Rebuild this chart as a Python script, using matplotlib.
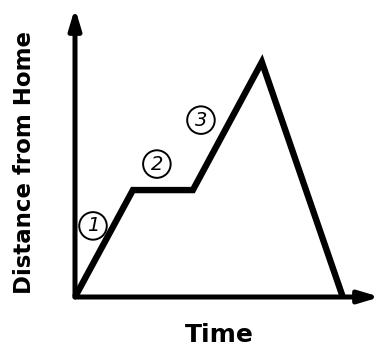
import matplotlib.pyplot as plt

# distance-time sketch (arbitrary units)
time = [0.0, 1.93, 3.93, 6.23, 8.93]
distance = [0.0, 3.7, 3.7, 8.13, 0.0]
stage_labels = ["1", "2", "3"]
stage_x = [0.6, 2.73, 4.2]
stage_y = [2.46, 4.6, 6.12]

fig = plt.figure(figsize=(3.82, 3.52), dpi=100)
ax = fig.add_axes([75 / 382, 55 / 352, 305 / 382, 289 / 352])
ax.set_xlim(0, 10.17)
ax.set_ylim(0, 10)
ax.axis("off")

ax.plot(time, distance, color="black", lw=4.6, solid_joinstyle="miter",
        solid_capstyle="butt", clip_on=False)

arrow = dict(arrowstyle="-|>,head_length=1.0,head_width=0.3", lw=3.6,
             color="black", shrinkA=0, shrinkB=0, mutation_scale=12)
ax.annotate("", xy=(0, 1), xytext=(0, 0), xycoords="axes fraction",
            arrowprops=arrow, annotation_clip=False)
ax.annotate("", xy=(1, 0), xytext=(0, 0), xycoords="axes fraction",
            arrowprops=arrow, annotation_clip=False)

for label, x, y in zip(stage_labels, stage_x, stage_y):
    ax.text(x, y, label, ha="center", va="center", fontsize=14,
            fontstyle="italic",
            bbox=dict(boxstyle="circle,pad=0.22", fc="none", ec="black", lw=1.4))

fig.text(219 / 382, 1 - 335 / 352, "Time", ha="center", va="center",
         fontsize=18, fontweight="heavy")
fig.text(25 / 382, 1 - 163 / 352, "Distance from Home", ha="center",
         va="center", rotation=90, fontsize=16.5, fontweight="heavy")

fig.savefig("out.png", dpi=100)
